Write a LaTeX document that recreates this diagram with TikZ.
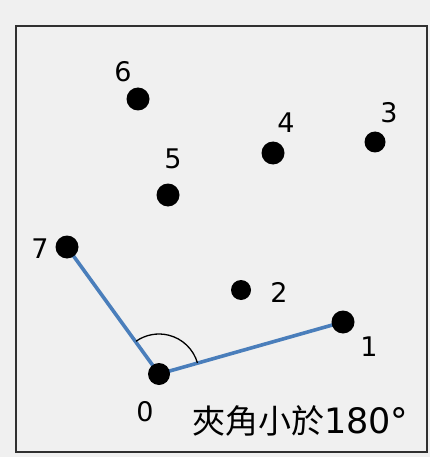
\documentclass[tikz,border=0pt]{standalone}
\usepackage{fontspec}
\setmainfont{DejaVu Sans}
\newfontfamily\cjk{Noto Sans CJK TC}
\definecolor{bg}{HTML}{F0F0F0}
\definecolor{segblue}{HTML}{4A7EBB}
\definecolor{framec}{HTML}{303030}
\begin{document}
\begin{tikzpicture}[x=1pt,y=-1pt,
  pt/.style={circle,fill=black,inner sep=0pt,minimum size=#1},
  pt/.default=23pt,
  lbl/.style={inner sep=0pt,font=\fontsize{27}{27}\selectfont},
  seg/.style={segblue,line width=3.6pt},
]
\fill[bg] (0,0) rectangle (430,457);
\useasboundingbox (0,0) rectangle (430,457);
\draw[framec,line width=2.2pt] (16,26) rectangle (427,452);

\draw[seg] (159,374) -- (67,247);
\draw[seg] (159,374) -- (343,322);

\node[pt] (p6) at (138,99) {};
\node[pt] (p4) at (273,153) {};
\node[pt=21pt] (p3) at (375,142) {};
\node[pt] (p5) at (168,195) {};
\node[pt] (p7) at (67,247) {};
\node[pt=20pt] (p2) at (241,290) {};
\node[pt] (p1) at (343,322) {};
\node[pt=22pt] (p0) at (159,374) {};

\node[lbl] (l6) at (123,72) {6};
\node[lbl] (l4) at (286,123) {4};
\node[lbl] (l3) at (389,113) {3};
\node[lbl] (l5) at (173,159) {5};
\node[lbl] (l7) at (40,249) {7};
\node[lbl] (l2) at (279,292) {2};
\node[lbl] (l1) at (369,347) {1};
\node[lbl] (l0) at (145,412) {0};

\draw[black,line width=1.3pt] ([shift={(-16:40)}]p0.center) arc[start angle=-16,end angle=-125,radius=40];

\node[inner sep=0pt,anchor=west] (cap) at (192,421)
  {{\cjk\fontsize{33}{33}\selectfont 夾角小於}{\fontsize{35}{35}\selectfont 180°}};
\end{tikzpicture}
\end{document}
